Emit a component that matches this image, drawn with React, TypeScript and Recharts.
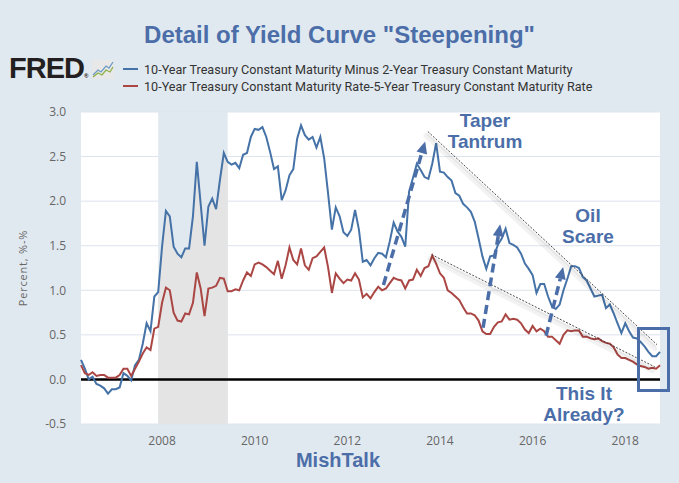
import React from 'react';
import {
  ComposedChart,
  Line,
  Area,
  XAxis,
  YAxis,
  CartesianGrid,
  ReferenceLine,
  ReferenceArea,
} from 'recharts';

// monthly observations, Apr 2006 .. Oct 2018
const START_YEAR = 2006;
const START_MONTH = 4;

const SPREAD_10Y_2Y = [
  0.22, 0.12, 0.0, 0.03, -0.05, -0.07, -0.1, -0.16, -0.11, -0.11, -0.09, 0.07,
  0.04, -0.01, 0.16, 0.22, 0.4, 0.63, 0.54, 0.93, 0.98, 1.49, 1.89, 1.83,
  1.49, 1.41, 1.37, 1.47, 1.47, 1.83, 2.44, 1.97, 1.5, 1.94, 2.03, 1.91,
  2.24, 2.54, 2.44, 2.41, 2.43, 2.37, 2.52, 2.54, 2.72, 2.81, 2.8, 2.83,
  2.72, 2.55, 2.36, 2.39, 2.01, 2.12, 2.29, 2.36, 2.7, 2.85, 2.74, 2.69,
  2.72, 2.6, 2.72, 2.48, 2.09, 1.68, 1.93, 1.83, 1.65, 1.61, 1.68, 1.9,
  1.68, 1.32, 1.34, 1.28, 1.36, 1.42, 1.41, 1.37, 1.55, 1.76, 1.66, 1.6,
  1.49, 2.11, 2.26, 2.42, 2.35, 2.27, 2.25, 2.42, 2.65, 2.33, 2.32, 2.27,
  2.23, 2.09, 2.06, 1.97, 1.93, 1.88, 1.77, 1.58, 1.38, 1.24, 1.38, 1.39,
  1.51, 1.58, 1.69, 1.53, 1.51, 1.48, 1.41, 1.3, 1.24, 1.17, 0.97, 1.07,
  1.07, 0.93, 0.82, 0.79, 0.84, 1.0, 1.13, 1.27, 1.27, 1.25, 1.15, 1.11,
  1.02, 0.93, 0.94, 0.95, 0.8, 0.84, 0.74, 0.63, 0.52, 0.63, 0.54, 0.47,
  0.46, 0.42, 0.37, 0.31, 0.26, 0.26, 0.31,
];

const SPREAD_10Y_5Y = [
  0.16, 0.07, 0.05, 0.08, 0.04, 0.05, 0.05, 0.02, 0.02, 0.02, 0.05, 0.12,
  0.12, 0.04, 0.12, 0.2, 0.29, 0.36, 0.33, 0.57, 0.59, 0.86, 1.03, 1.0,
  0.75, 0.66, 0.65, 0.74, 0.73, 0.86, 1.2, 1.02, 0.71, 1.02, 1.03, 1.05,
  1.14, 1.13, 0.99, 0.99, 1.01, 1.0, 1.11, 1.2, 1.16, 1.29, 1.31, 1.29,
  1.26, 1.22, 1.18, 1.33, 1.13, 1.28, 1.48, 1.34, 1.29, 1.47, 1.28, 1.23,
  1.36, 1.38, 1.43, 1.48, 1.26, 0.97, 1.19, 1.13, 1.08, 1.12, 1.11, 1.19,
  1.12, 0.92, 0.96, 0.91, 0.98, 1.04, 1.0, 1.02, 1.08, 1.14, 1.12, 1.11,
  1.02, 1.11, 1.12, 1.23, 1.16, 1.25, 1.27, 1.39, 1.3, 1.19, 1.14, 1.0,
  0.97, 0.93, 0.89, 0.81, 0.74, 0.74, 0.72, 0.66, 0.54, 0.51, 0.51, 0.59,
  0.64, 0.65, 0.73, 0.67, 0.68, 0.67, 0.63, 0.56, 0.52, 0.6, 0.54, 0.57,
  0.54, 0.48, 0.48, 0.44, 0.4, 0.5, 0.55, 0.54, 0.55, 0.55, 0.48, 0.48,
  0.46, 0.45, 0.46, 0.43, 0.41, 0.4, 0.36, 0.28, 0.24, 0.24, 0.22, 0.2,
  0.17, 0.15, 0.14, 0.12, 0.13, 0.12, 0.16,
];

const X_TICKS = [2008, 2010, 2012, 2014, 2016, 2018];
const Y_TICKS = [-0.5, 0, 0.5, 1, 1.5, 2, 2.5, 3];

// NBER recession (Dec 2007 - Jun 2009), as decimal years
const RECESSION_START = 2007 + 11 / 12;
const RECESSION_END = 2009 + 5 / 12;

// hand drawn annotations: [year, value] -> [year, value]
const TREND_LINES = [
  [2013.74, 2.78, 2018.685, 0.39],
  [2013.82, 1.4, 2018.64, 0.14],
];
const ARROWS = [
  [2012.78, 1.06, 2013.68, 2.67],
  [2014.93, 0.58, 2015.3, 1.74],
  [2016.29, 0.49, 2016.66, 1.26],
];

const LEGEND = [
  { name: '10-Year Treasury Constant Maturity Minus 2-Year Treasury Constant Maturity', color: '#4572A7' },
  { name: '10-Year Treasury Constant Maturity Rate-5-Year Treasury Constant Maturity Rate', color: '#AA4643' },
];

const BG = '#E1E9F0';
const NOTE = '#4B6EA9';

const rows = SPREAD_10Y_2Y.map((v, i) => {
  const t = START_YEAR + (START_MONTH - 1 + i) / 12;
  const inRec = t >= RECESSION_START - 0.001 && t <= RECESSION_END + 0.001;
  return { t, a: v, b: SPREAD_10Y_5Y[i], rec: inRec ? v : null };
});

const TrendShape = (p: any) => {
  const { x1, y1, x2, y2 } = p;
  return (
    <g>
      <line x1={x1 - 2} y1={y1 + 4} x2={x2 - 2} y2={y2 + 4} stroke="rgba(0,0,0,0.05)" strokeWidth={5} strokeLinecap="round" />
      <line x1={x1 - 1} y1={y1 + 2} x2={x2 - 1} y2={y2 + 2} stroke="rgba(0,0,0,0.05)" strokeWidth={2.5} />
      <line x1={x1} y1={y1} x2={x2} y2={y2} stroke="#333" strokeWidth={0.9} strokeDasharray="2 1.5" />
    </g>
  );
};

const ArrowShape = (p: any) => {
  const { x1, y1, x2, y2 } = p;
  const ang = Math.atan2(y2 - y1, x2 - x1);
  const L = 12;
  const W = 5.5;
  const bx = x2 - L * Math.cos(ang);
  const by = y2 - L * Math.sin(ang);
  const s = Math.sin(ang);
  const c = Math.cos(ang);
  const pts = `${x2},${y2} ${bx + W * s},${by - W * c} ${bx - W * s},${by + W * c}`;
  return (
    <g>
      <line x1={x1} y1={y1} x2={bx} y2={by} stroke={NOTE} strokeWidth={3.5} strokeDasharray="9 5" />
      <polygon points={pts} fill={NOTE} />
    </g>
  );
};

const noteStyle = (left: number, top: number, size = 19): React.CSSProperties => ({
  position: 'absolute',
  left: left - 80,
  top,
  width: 160,
  textAlign: 'center',
  fontFamily: '"Liberation Sans", Arial, sans-serif',
  fontWeight: 700,
  fontSize: size,
  lineHeight: '21px',
  color: NOTE,
});

const FredIcon = () => (
  <svg width={22} height={19} style={{ position: 'absolute', left: 92, top: 60 }}>
    <rect x={0} y={0} width={22} height={19} fill="#E8E8E8" />
    <polyline points="1,15 6,10 9,12 14,6 17,8 21,2" fill="none" stroke="#6E9BC5" strokeWidth={1.3} />
    <polyline points="1,17 6,13 10,15 14,10 18,12 21,7" fill="none" stroke="#8DB04A" strokeWidth={1.3} />
  </svg>
);

export default function App() {
  return (
    <div style={{ position: 'absolute', left: 0, top: 0, width: 679, height: 483, background: BG, overflow: 'hidden' }}>
      <div
        style={{
          position: 'absolute',
          left: 0,
          top: 23,
          width: 679,
          textAlign: 'center',
          fontFamily: '"Liberation Sans", Arial, sans-serif',
          fontWeight: 700,
          fontSize: 24,
          lineHeight: '24px',
          color: NOTE,
        }}
      >
        Detail of Yield Curve "Steepening"
      </div>

      <div
        style={{
          position: 'absolute',
          left: 9,
          top: 52,
          fontFamily: '"Liberation Sans", Arial, sans-serif',
          fontWeight: 700,
          fontSize: 29,
          letterSpacing: -1,
          color: '#231F20',
        }}
      >
        FRED<span style={{ fontSize: 6, letterSpacing: 0 }}>®</span>
      </div>
      <FredIcon />

      {LEGEND.map((l, i) => (
        <div key={l.name} style={{ position: 'absolute', left: 123, top: 61 + i * 17, height: 16, display: 'flex', alignItems: 'center' }}>
          <div style={{ width: 15, height: 2, background: l.color, marginRight: 6 }} />
          <span style={{ fontFamily: 'Roboto, sans-serif', fontSize: 12.6, color: '#333', whiteSpace: 'nowrap' }}>{l.name}</span>
        </div>
      ))}

      <div
        style={{
          position: 'absolute',
          left: 22,
          top: 268,
          transform: 'translate(-50%, -50%) rotate(-90deg)',
          fontFamily: '"Open Sans", sans-serif',
          fontSize: 11,
          letterSpacing: 0.8,
          color: '#666',
          whiteSpace: 'nowrap',
        }}
      >
        Percent, %-%
      </div>

      <div style={{ position: 'absolute', left: 0, top: 0 }}>
        <ComposedChart width={679} height={483} data={rows} margin={{ top: 112, right: 19, bottom: 29, left: 0 }}>
          <CartesianGrid vertical={false} stroke="#DDE3EC" fill="#FFFFFF" />
          <XAxis
            type="number"
            dataKey="t"
            domain={['dataMin', 'dataMax']}
            ticks={X_TICKS}
            tickFormatter={(v) => String(v)}
            axisLine={false}
            tickLine={false}
            tickMargin={6}
            height={30}
            tick={{ fill: '#666', fontSize: 12, fontFamily: '"Open Sans", sans-serif' }}
          />
          <YAxis
            type="number"
            domain={[-0.5, 3]}
            ticks={Y_TICKS}
            tickFormatter={(v) => Number(v).toFixed(1)}
            axisLine={false}
            tickLine={false}
            tickMargin={9}
            width={81}
            tick={{ fill: '#666', fontSize: 12, fontFamily: '"Open Sans", sans-serif' }}
          />
          <ReferenceArea x1={RECESSION_START} x2={RECESSION_END} y1={-0.5} y2={3} fill={BG} fillOpacity={1} stroke="none" />
          <Area
            dataKey="rec"
            type="linear"
            baseValue={-0.5}
            fill="#E4E4E4"
            fillOpacity={1}
            stroke="none"
            isAnimationActive={false}
            connectNulls={false}
          />
          <ReferenceLine y={0} stroke="#000" strokeWidth={2.5} />
          <Line dataKey="a" type="linear" stroke="#4572A7" strokeWidth={2} dot={false} isAnimationActive={false} />
          <Line dataKey="b" type="linear" stroke="#AA4643" strokeWidth={2} dot={false} isAnimationActive={false} />
          {TREND_LINES.map((s, i) => (
            <ReferenceLine
              key={'tr' + i}
              segment={[{ x: s[0], y: s[1] }, { x: s[2], y: s[3] }]}
              shape={TrendShape}
            />
          ))}
          {ARROWS.map((s, i) => (
            <ReferenceLine
              key={'ar' + i}
              segment={[{ x: s[0], y: s[1] }, { x: s[2], y: s[3] }]}
              shape={ArrowShape}
            />
          ))}
        </ComposedChart>
      </div>

      <div style={noteStyle(485, 109.5)}>Taper<br />Tantrum</div>
      <div style={noteStyle(588, 204.5)}>Oil<br />Scare</div>
      <div style={noteStyle(584, 382.5)}>This It<br />Already?</div>
      <div style={noteStyle(338, 450, 20)}>MishTalk</div>

      <div
        style={{
          position: 'absolute',
          left: 637,
          top: 327,
          width: 33,
          height: 65,
          border: `3px solid ${NOTE}`,
          boxSizing: 'border-box',
        }}
      />
    </div>
  );
}
